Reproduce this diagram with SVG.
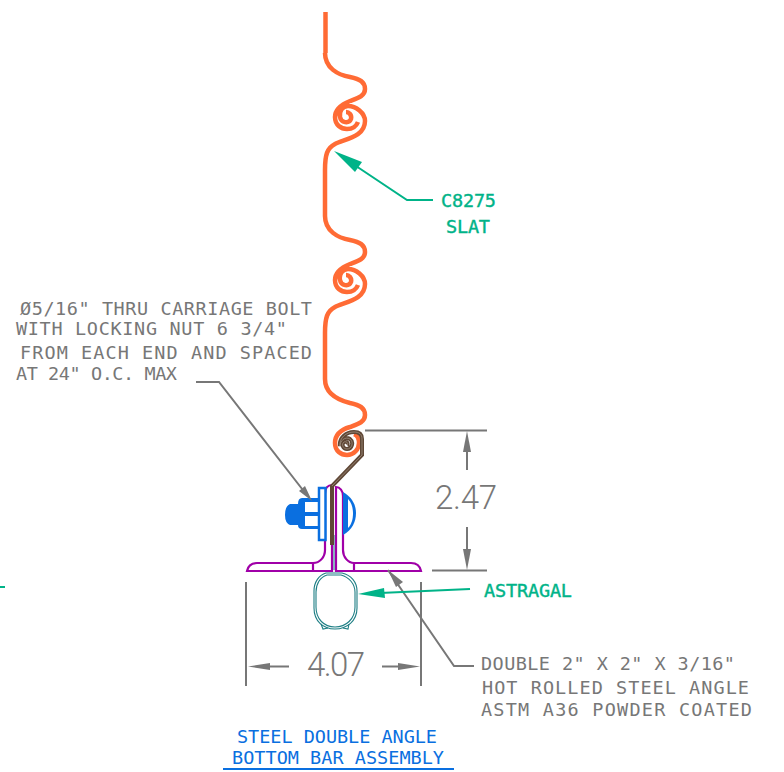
<svg xmlns="http://www.w3.org/2000/svg" width="784" height="772" viewBox="0 0 784 772">
<style>
text{font-family:"DejaVu Sans Mono","Liberation Mono",monospace;font-size:18.500px}
.g{fill:#777;}
.gr{fill:#00b388;stroke:#00b388;stroke-width:.4}
.b{fill:#0a6fe0}
.dim{font-family:Roboto,"Liberation Sans",sans-serif;font-weight:300;font-size:33px;fill:#777}
.ln{fill:none;stroke:#777;stroke-width:2}
.gl{fill:none;stroke:#00b388;stroke-width:2}
.slat{fill:none;stroke:#ff6b35;stroke-width:4.500;stroke-linecap:butt}
.mag{fill:none;stroke:#a000a8;stroke-width:2.200}
.teal{fill:none;stroke:#1f7f85;stroke-width:1.100}
.ah{fill:#777}
.agr{fill:#00b388}
</style>
<defs>
<path id="lobe" d="M325 53C325 68 338 75 350 77C360 79 365 82 365 89C365 96 358 98 350 101C340 105 335 110 335 117C335 125 341 129 347 129C352 129 356 127 358 122M325 216V170C325 155 327 148 335 144C345 139 365 137 365 121C365 113 356 106 348 106C342 106 339 112 340 117C341 123 349 124 351 119C352 115 349 112 346 112"/>
</defs>
<g id="slat">
<path class="slat" d="M325.500 12V53"/>
<use href="#lobe" class="slat"/>
<use href="#lobe" class="slat" transform="translate(0,163)"/>
<path class="slat" d="M325 379C325 394 338 400 350 403C360 405 365 408 365 415C365 422 358 424 350 427C340 430 335 436 335 443C335 451 341 455 347 455C354 455 359 449 359 443C359 438 357 435 354 434"/>
</g>
<g id="angle">
<path class="mag" d="M247 571C248 566 251 563 257 563H313C320 563 325 557 325 550V494C325 488 328 485 332 485V571H247Z"/>
<path class="mag" d="M421 571C420 566 417 563 411 563H354C348 563 343 557 343 550V496C343 491 340 487 336 487V571H421Z"/>
<path class="mag" d="M313 563V571M354 563V571"/>
<path d="M334 535V570" stroke="#1f7f85" fill="none"/>
</g>
<g id="hook">
<path d="M347 445C349 443 346 441 344 442C341 444 343 449 347 449C352 449 354 442 350 439C345 436 340 441 340 446C339 438 346 432 354 432C359 432 362 434 362 439V455L332 486V545" fill="none" stroke="#5f4736" stroke-width="4"/>
<path d="M347 445C349 443 346 441 344 442C341 444 343 449 347 449C352 449 354 442 350 439C345 436 340 441 340 446C339 438 346 432 354 432C359 432 362 434 362 439V455L332 486" fill="none" stroke="#a89888" stroke-width=".7"/>
</g>
<g id="bolt">
<path class="b" d="M302 498H318V529H302Q298 529 298 525H290Q285 523 285 515Q285 506 290 504H298Q298 498 302 498Z"/>
<rect x="305" y="502" width="13" height="10" fill="#fff"/>
<rect x="305" y="516" width="13" height="10" fill="#fff"/>
<rect x="319" y="488" width="6.500" height="52" fill="#fff" stroke="#0a6fe0" stroke-width="2.500"/>
<path class="b" d="M343 492C352 497 356 505 356 513C356 522 352 530 343 535Z"/>
<path d="M348 499C352 503 353 509 353 513C353 518 352 524 348 528Z" fill="#fff"/>
</g>
<g id="astragal">
<path class="teal" d="M326 573H342C351 575 357 582 357 591V608C357 621 347 629 335 629C323 629 314 621 314 608V591C314 582 319 575 326 573Z"/>
<path class="teal" d="M327 575H341C349 577 355 584 355 592V607C355 619 346 627 335 627C324 627 316 619 316 607V592C316 584 320 577 327 575Z"/>
<path class="teal" d="M321 624L323 629L328 628M349 624L348 629L343 628"/>
</g>
<g id="connectors">
<path class="ln" d="M196 382H219L306 494"/>
<path class="ah" d="M312 501L299 491L305 486Z"/>
<path class="ln" d="M388 570L454 666H474"/>
<path class="ah" d="M388 570L403 582L396 587Z"/>
<path class="ln" d="M365 430.500H487M432 570.500H487M467 445V470M467 527V556"/>
<path class="ah" d="M467 431L471 452H463Z"/>
<path class="ah" d="M467 570L471 549H463Z"/>
<path class="ln" d="M246 582V686M421 582V686M265 666.500H289M382 666.500H402"/>
<path class="ah" d="M248 666.500L270 663V670Z"/>
<path class="ah" d="M420 666.500L398 663V670Z"/>
<path class="gl" d="M433 200H407L350 162"/>
<path class="agr" d="M334 151L362 162L355 172Z"/>
<path class="gl" d="M470 589L380 593"/>
<path class="agr" d="M358 594L384 588L385 598Z"/>
<path class="gl" d="M0 587H5"/>
<path d="M223 769H454" stroke="#0a6fe0" stroke-width="2" fill="none"/>
</g>
<g id="labels">
<text class="g" x="20" y="315" textLength="292" lengthAdjust="spacing">Ø5/16" THRU CARRIAGE BOLT</text>
<text class="g" x="16" y="335" textLength="271" lengthAdjust="spacing">WITH LOCKING NUT 6 3/4"</text>
<text class="g" x="20" y="359" textLength="292" lengthAdjust="spacing">FROM EACH END AND SPACED</text>
<text class="g" x="16" y="380" textLength="161" lengthAdjust="spacing">AT 24" O.C. MAX</text>
<text class="gr" x="441" y="207" textLength="55" lengthAdjust="spacing">C8275</text>
<text class="gr" x="446" y="233" textLength="44" lengthAdjust="spacing">SLAT</text>
<text class="gr" x="484" y="597" textLength="88" lengthAdjust="spacing">ASTRAGAL</text>
<text class="dim" x="435" y="509" textLength="62" lengthAdjust="spacing">2.47</text>
<text class="dim" x="307" y="676" textLength="58" lengthAdjust="spacing">4.07</text>
<text class="g" x="481" y="670" textLength="254" lengthAdjust="spacing">DOUBLE 2" X 2" X 3/16"</text>
<text class="g" x="482" y="694" textLength="267" lengthAdjust="spacing">HOT ROLLED STEEL ANGLE</text>
<text class="g" x="481" y="716" textLength="271" lengthAdjust="spacing">ASTM A36 POWDER COATED</text>
<text class="b" x="237" y="743" textLength="200" lengthAdjust="spacing">STEEL DOUBLE ANGLE</text>
<text class="b" x="232" y="764" textLength="212" lengthAdjust="spacing">BOTTOM BAR ASSEMBLY</text>
</g>
</svg>
